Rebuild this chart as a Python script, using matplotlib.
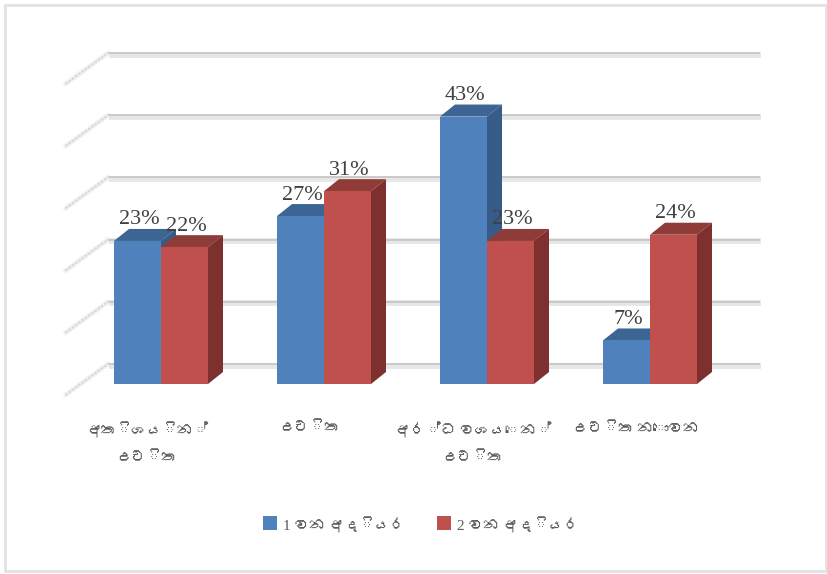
import matplotlib
matplotlib.use("Agg")
import matplotlib.pyplot as plt
from matplotlib import font_manager as fm
from matplotlib.patches import Rectangle
from matplotlib.transforms import Affine2D, IdentityTransform
from matplotlib.ft2font import FT2Font

categories = ["අතිශයින්\nඋචිත", "උචිත", "අර්ධ වශයෙන්\nඋචිත", "උචිත නොවන"]
series_names = ["1 වන අදියර", "2 වන අදියර"]
phase1 = [23, 27, 43, 7]
phase2 = [22, 31, 23, 24]
grid_values = [0, 10, 20, 30, 40, 50]

BLUE = ("#4F81BD", "#375C8A", "#3C6594")
RED = ("#C0504D", "#7D302E", "#8F3C39")
W, H = 827, 574

# find a face with Sinhala glyphs, if one is installed
sinhala = []
for path in fm.findSystemFonts():
    try:
        if 0x0D85 in FT2Font(path).get_charmap():
            sinhala.append(fm.FontProperties(fname=path).get_name())
            break
    except Exception:
        pass
fam = ["Liberation Serif"] + sinhala + ["DejaVu Sans"]
plt.rcParams["font.family"] = ["Liberation Serif", "DejaVu Sans"]

fig = plt.figure(figsize=(W / 100, H / 100), dpi=100, facecolor="white")
fig.add_artist(Rectangle((4.5 / W, 1 - 571 / H), 821 / W, 566 / H, transform=fig.transFigure,
                         fill=False, edgecolor="#E2E2E2", linewidth=2.0))

left, right, base, top = 79.5, 731.5, 384, 73
ax = fig.add_axes([left / W, 1 - base / H, (right - left) / W, (base - top) / H])
ax.set_xlim(-0.5, 3.5)
ax.set_ylim(0, 50)
ax.axis("off")
fig.canvas.draw()


def shifted(dx, dy):
    return ax.transData + Affine2D().translate(dx, dy)


# back wall gridlines and their diagonal wall stubs
back = shifted(28.5, 20)
for v in grid_values:
    ax.plot([-0.5, 3.5], [v, v], transform=shifted(29, 18.5), color="#E6E6E6", lw=4.2,
            solid_capstyle="butt", zorder=1, clip_on=False)
    ax.plot([-0.5, 3.5], [v, v], transform=back, color="#C2C2C2", lw=1.1,
            solid_capstyle="butt", zorder=1.1, clip_on=False)
    p0 = ax.transData.transform((-0.5, v)) + (-14, -11)
    p1 = ax.transData.transform((-0.5, v)) + (28.5, 20)
    ax.plot([p0[0], p1[0]], [p0[1], p1[1]], transform=IdentityTransform(), color="#F0F0F0",
            lw=3.4, zorder=1.05, clip_on=False, solid_capstyle="round")
    ax.plot([p0[0], p1[0]], [p0[1], p1[1]], transform=IdentityTransform(), color="#D6D6D6",
            lw=1.2, ls=(0, (1.6, 0.8)), zorder=1.1, clip_on=False)

bar_w = 47 / 163
DX, DY = 15, 12


def bar3d(x, v, colors, z):
    ax.bar(x, v, width=bar_w, color=colors[0], zorder=z + 0.2, linewidth=0)
    a = ax.transData.transform((x - bar_w / 2, v))
    b = ax.transData.transform((x + bar_w / 2, v))
    c = ax.transData.transform((x + bar_w / 2, 0))
    ax.fill([a[0], a[0] + DX, b[0] + DX, b[0]], [a[1], a[1] + DY, b[1] + DY, b[1]],
            color=colors[2], transform=IdentityTransform(), zorder=z, linewidth=0, clip_on=False)
    ax.fill([b[0], b[0] + DX, c[0] + DX, c[0]], [b[1], b[1] + DY, c[1] + DY, c[1]],
            color=colors[1], transform=IdentityTransform(), zorder=z + 0.1, linewidth=0, clip_on=False)


for i, (a, b) in enumerate(zip(phase1, phase2)):
    xa, xb = i - bar_w / 2, i + bar_w / 2
    bar3d(xa, a, BLUE, 2 + i)
    bar3d(xb, b, RED, 2.5 + i)
    for x, v in ((xa, a), (xb, b)):
        ax.annotate(f"{v}%", (x, v), xytext=(1.5 * 0.72, 21 * 0.72), textcoords="offset points",
                    ha="center", va="center", fontsize=16, color="#404040", zorder=10)

# category labels
for i, c in enumerate(categories):
    ax.annotate(c, (i, 0), xytext=(-14 * 0.72, -38 * 0.72), textcoords="offset points",
                ha="center", va="top", fontsize=11, color="#595959", family=fam,
                linespacing=2.4, annotation_clip=False)

# legend
for sx, tx, col, name in ((263, 283, BLUE[0], series_names[0]), (437, 457, RED[0], series_names[1])):
    fig.add_artist(Rectangle((sx / W, 1 - 530 / H), 14 / W, 14 / H, transform=fig.transFigure,
                             facecolor=col, edgecolor="none"))
    fig.text(tx / W, 1 - 525 / H, name, ha="left", va="center", fontsize=11, color="#595959", family=fam)

fig.savefig("out.png", dpi=100)
